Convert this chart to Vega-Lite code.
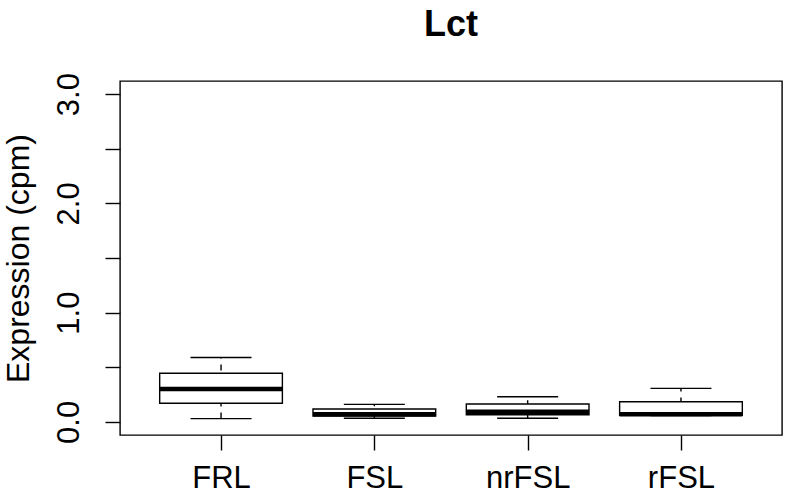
{
  "$schema": "https://vega.github.io/schema/vega-lite/v6.json",
  "width": 662,
  "height": 354,
  "autosize": {"type": "none"},
  "padding": {"left": 120, "top": 81, "right": 5, "bottom": 63},
  "background": "white",
  "config": {
    "view": {"stroke": "black", "strokeWidth": 1.4},
    "font": "Liberation Sans"
  },
  "title": {
    "text": "Lct",
    "fontSize": 36,
    "fontWeight": "bold",
    "font": "Liberation Sans",
    "color": "black",
    "anchor": "middle",
    "frame": "group",
    "offset": 29
  },
  "data": {
    "values": [
      {"group": "FRL", "lower": 0.03, "q1": 0.17, "median": 0.3, "q3": 0.445, "upper": 0.59},
      {"group": "FSL", "lower": 0.033, "q1": 0.054, "median": 0.07, "q3": 0.118, "upper": 0.16},
      {"group": "nrFSL", "lower": 0.033, "q1": 0.066, "median": 0.093, "q3": 0.164, "upper": 0.23},
      {"group": "rFSL", "lower": 0.058, "q1": 0.06, "median": 0.069, "q3": 0.185, "upper": 0.307}
    ]
  },
  "encoding": {
    "x": {
      "field": "group",
      "type": "nominal",
      "sort": ["FRL", "FSL", "nrFSL", "rFSL"],
      "scale": {"type": "point", "padding": 0.659},
      "axis": {
        "title": null,
        "labelAngle": 0,
        "labelFontSize": 31,
        "labelFont": "Liberation Sans",
        "labelColor": "black",
        "labelBaseline": "alphabetic",
        "labelPadding": 37,
        "tickSize": 15,
        "tickColor": "black",
        "tickWidth": 1.4,
        "domain": false,
        "grid": false
      }
    }
  },
  "layer": [
    {
      "mark": {"type": "rule", "strokeDash": [6, 6], "color": "black", "strokeWidth": 1.4},
      "encoding": {
        "y": {
          "field": "lower",
          "type": "quantitative",
          "scale": {"domain": [-0.12, 3.12], "nice": false, "zero": false},
          "axis": {
            "title": "Expression (cpm)",
            "titleFontSize": 32,
            "titleFont": "Liberation Sans",
            "titleFontWeight": "normal",
            "titleColor": "black",
            "titlePadding": 18,
            "values": [0, 0.5, 1, 1.5, 2, 2.5, 3],
            "labelExpr": "datum.value % 1 == 0 ? format(datum.value, '.1f') : ''",
            "labelAngle": -90,
            "labelAlign": "center",
            "labelBaseline": "bottom",
            "labelFontSize": 31,
            "labelFont": "Liberation Sans",
            "labelColor": "black",
            "labelPadding": 20,
            "tickSize": 15,
            "tickColor": "black",
            "tickWidth": 1.4,
            "domain": false,
            "grid": false
          }
        },
        "y2": {"field": "upper"}
      }
    },
    {
      "mark": {"type": "tick", "size": 61, "thickness": 1.4, "color": "black", "opacity": 1},
      "encoding": {"y": {"field": "upper", "type": "quantitative"}}
    },
    {
      "mark": {"type": "tick", "size": 61, "thickness": 1.4, "color": "black", "opacity": 1},
      "encoding": {"y": {"field": "lower", "type": "quantitative"}}
    },
    {
      "mark": {"type": "bar", "size": 122.7, "fill": "white", "stroke": "black", "strokeWidth": 1.4},
      "encoding": {
        "y": {"field": "q1", "type": "quantitative"},
        "y2": {"field": "q3"}
      }
    },
    {
      "mark": {"type": "tick", "size": 122.7, "thickness": 4.5, "color": "black", "opacity": 1},
      "encoding": {"y": {"field": "median", "type": "quantitative"}}
    }
  ]
}
